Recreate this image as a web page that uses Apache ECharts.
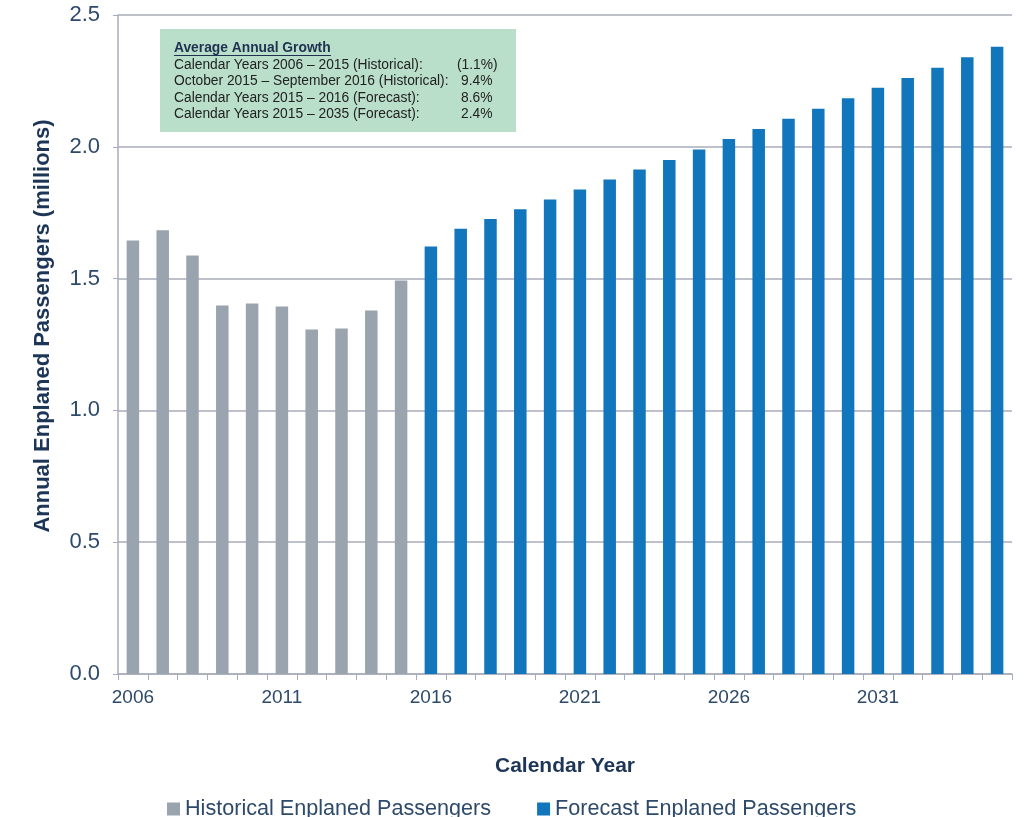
<!DOCTYPE html>
<html>
<head>
<meta charset="utf-8">
<script src="https://cdn.jsdelivr.net/npm/echarts@6/dist/echarts.min.js"></script>
<style>
html,body{margin:0;padding:0;background:#fff;}
#c{width:1026px;height:817px;}
</style>
</head>
<body>
<div id="c"></div>
<script>
const years = ['2006','2007','2008','2009','2010','2011','2012','2013','2014','2015',
  '2016','2017','2018','2019','2020','2021','2022','2023','2024','2025',
  '2026','2027','2028','2029','2030','2031','2032','2033','2034','2035'];
const historical = [1.645,1.683,1.588,1.398,1.406,1.394,1.307,1.311,1.379,1.493,
  null,null,null,null,null,null,null,null,null,null,
  null,null,null,null,null,null,null,null,null,null];
const forecast = [null,null,null,null,null,null,null,null,null,null,
  1.622,1.689,1.726,1.763,1.800,1.838,1.876,1.914,1.950,1.990,
  2.030,2.068,2.106,2.144,2.184,2.224,2.261,2.300,2.340,2.380];
const yTicks = ['0.0','0.5','1.0','1.5','2.0','2.5'];
const growthTitle = 'Average Annual Growth';
const growthLabels = [
  'Calendar Years 2006 \u2013 2015 (Historical):',
  'October 2015 \u2013 September 2016 (Historical):',
  'Calendar Years 2015 \u2013 2016 (Forecast):',
  'Calendar Years 2015 \u2013 2035 (Forecast):'
];
const growthValues = ['(1.1%)','9.4%','8.6%','2.4%'];

const FONT = 'Liberation Sans, Arial, sans-serif';
const labelColor = '#2e4a6b';
const titleColor = '#1d3657';
const gridColor = '#a9adbb';

const chart = echarts.init(document.getElementById('c'), null, {renderer:'canvas'});

const graphics = [
  {type:'text', x:43, y:326, rotation: Math.PI/2,
   style:{text:'Annual Enplaned Passengers (millions)', font:'bold 22px ' + FONT, fill: titleColor,
          align:'center', verticalAlign:'middle'}},
  {type:'rect', shape:{x:160,y:29,width:356,height:103}, style:{fill:'#b9dfca'}, z:10},
  {type:'text', x:174, y:48, style:{text:growthTitle, font:'bold 13.8px ' + FONT, fill:'#1f3050', verticalAlign:'middle'}, z:11},
  {type:'line', shape:{x1:174,y1:55.5,x2:331,y2:55.5}, style:{stroke:'#1f3050', lineWidth:1}, z:11}
];
growthLabels.forEach((t,i)=>{
  graphics.push({type:'text', x:174, y:65 + i*16.4, style:{text:t, font:'13.8px ' + FONT, fill:'#222', verticalAlign:'middle'}, z:11});
  graphics.push({type:'text', x:(i===0?457:461), y:65 + i*16.4, style:{text:growthValues[i], font:'13.8px ' + FONT, fill:'#222', verticalAlign:'middle'}, z:11});
});

chart.setOption({
  animation:false,
  backgroundColor:'#ffffff',
  textStyle:{fontFamily: FONT},
  grid:{left:118, right:14, top:15, bottom:143, containLabel:false},
  legend:{
    left:162, top:793, itemWidth:13, itemHeight:13, itemGap:46,
    icon:'rect',
    textStyle:{fontSize:21.6, color:labelColor, fontFamily:FONT},
    data:['Historical Enplaned Passengers','Forecast Enplaned Passengers']
  },
  xAxis:{
    type:'category', data:years, boundaryGap:true,
    name:'Calendar Year', nameLocation:'middle', nameGap:82,
    nameTextStyle:{fontSize:21, fontWeight:'bold', color:titleColor, fontFamily:FONT},
    axisLine:{lineStyle:{color:gridColor, width:1.5}},
    axisTick:{show:true, interval:0, length:6, lineStyle:{color:gridColor}},
    axisLabel:{interval:4, fontSize:19, color:labelColor, margin:14, fontFamily:FONT}
  },
  yAxis:{
    type:'value', min:0, max:2.5, interval:0.5,
    axisLine:{show:true, lineStyle:{color:gridColor, width:1.5}},
    axisTick:{show:true, length:5, lineStyle:{color:gridColor}},
    axisLabel:{fontSize:22, color:labelColor, margin:18, fontFamily:FONT,
      formatter:(v)=>yTicks[Math.round(v/0.5)]},
    splitLine:{show:true, lineStyle:{color:gridColor, width:1.5}}
  },
  series:[
    {name:'Historical Enplaned Passengers', type:'bar', data:historical, barWidth:12.5, barGap:'-100%',
     itemStyle:{color:'#99a4ae'}},
    {name:'Forecast Enplaned Passengers', type:'bar', data:forecast, barWidth:12.5,
     itemStyle:{color:'#1276bc'}}
  ],
  graphic:graphics
});
</script>
</body>
</html>
